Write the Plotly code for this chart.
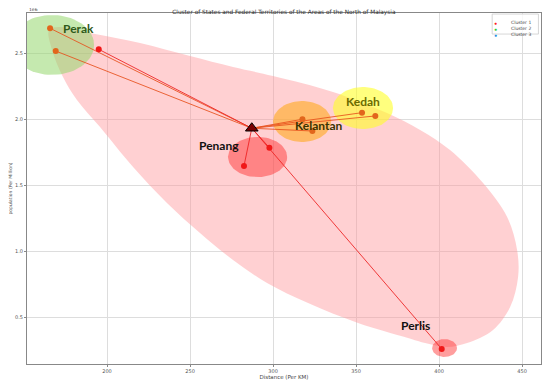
import numpy as np
import plotly.graph_objects as go

# state points (distance in km, population in millions)
states = ["Perak", "Perak", "Perak", "Penang", "Penang", "Kelantan", "Kelantan", "Kedah", "Kedah", "Perlis"]
distance = [165.7, 169.1, 195.0, 282.5, 297.8, 317.7, 323.7, 353.6, 361.6, 401.6]
population = [2.687, 2.515, 2.528, 1.644, 1.783, 1.998, 1.909, 2.048, 2.023, 0.258]
point_group = ["o", "o", "r", "r", "r", "o", "o", "o", "o", "r"]

centroid_distance = [287.2]
centroid_population = [1.930]

# outline of the big cluster region
region_distance = [165.1, 171.7, 192.8, 219.9, 250.0, 275.9, 300.0, 336.1, 368.7, 388.6,
                   406.6, 426.5, 441.0, 447.0, 447.6, 442.8, 432.5, 416.9, 404.8, 391.6,
                   381.3, 351.2, 321.1, 296.4, 275.9, 256.0, 236.1, 215.7, 195.8, 181.9,
                   173.5, 166.9]
region_population = [2.674, 2.697, 2.644, 2.576, 2.477, 2.394, 2.326, 2.205, 2.045, 1.917,
                     1.765, 1.515, 1.258, 1.008, 0.803, 0.576, 0.402, 0.303, 0.273, 0.303,
                     0.341, 0.455, 0.606, 0.758, 0.932, 1.136, 1.364, 1.636, 1.939, 2.144,
                     2.318, 2.523]

# state areas: centre and half widths
area_names = ["Perak", "Penang", "Kelantan", "Kedah", "Perlis"]
area_cx = [166.9, 290.7, 317.5, 354.2, 403.3]
area_cy = [2.561, 1.712, 1.981, 2.083, 0.265]
area_rx = [25.3, 17.8, 17.5, 18.1, 7.5]
area_ry = [0.227, 0.152, 0.155, 0.159, 0.068]
area_colors = ["rgba(150,215,110,0.55)", "rgba(255,40,40,0.45)", "rgba(255,170,30,0.6)",
               "rgba(255,255,40,0.6)", "rgba(255,40,40,0.45)"]

label_x = [183.1, 267.2, 327.7, 353.9, 386.1]
label_y = [2.682, 1.803, 1.949, 2.136, 0.432]
label_colors = ["#2f5a1a", "#111111", "#3a3200", "#6b6b00", "#111111"]

legend_names = ["Cluster 1", "Cluster 2", "Cluster 3"]
legend_colors = ["#ff1a1a", "#33cc33", "#1f8fe0"]

RED = "#f01818"
ORANGE = "#e2661c"
col = {"r": RED, "o": ORANGE}
line_col = {"r": "#ee2020", "o": "#e8501c"}

fig = go.Figure()

fig.add_trace(go.Scatter(
    x=region_distance + region_distance[:1], y=region_population + region_population[:1],
    mode="lines", line=dict(width=0, shape="spline", smoothing=1.0),
    fill="toself", fillcolor="rgba(255,150,155,0.45)", hoverinfo="skip", showlegend=False))

t = np.linspace(0, 2 * np.pi, 80)
for cx, cy, rx, ry, c in zip(area_cx, area_cy, area_rx, area_ry, area_colors):
    fig.add_trace(go.Scatter(
        x=cx + rx * np.cos(t), y=cy + ry * np.sin(t), mode="lines",
        line=dict(width=0), fill="toself", fillcolor=c, hoverinfo="skip", showlegend=False))

for d, p, g in zip(distance, population, point_group):
    fig.add_trace(go.Scatter(
        x=[centroid_distance[0], d], y=[centroid_population[0], p], mode="lines",
        line=dict(color=line_col[g], width=1), opacity=0.85, showlegend=False, hoverinfo="skip"))

fig.add_trace(go.Scatter(
    x=distance, y=population, mode="markers", text=states,
    marker=dict(size=6, color=[col[g] for g in point_group]), showlegend=False))

fig.add_trace(go.Scatter(
    x=centroid_distance, y=centroid_population, mode="markers",
    marker=dict(symbol="triangle-up", size=11, color="#7a0000", line=dict(color="black", width=1)),
    showlegend=False))

for name, x, y, c in zip(area_names, label_x, label_y, label_colors):
    fig.add_annotation(x=x, y=y, text="<b>%s</b>" % name, showarrow=False,
                       font=dict(family="Lato", size=12, color=c))

# small legend box
fig.add_shape(type="rect", xref="paper", yref="paper", x0=0.905, x1=0.995, y0=0.94, y1=0.997,
              line=dict(color="#cccccc", width=0.8), fillcolor="rgba(255,255,255,0.8)")
for i, (n, c) in enumerate(zip(legend_names, legend_colors)):
    yy = 0.986 - i * 0.0175
    fig.add_annotation(xref="paper", yref="paper", x=0.918, y=yy, text="●", showarrow=False,
                       font=dict(size=5, color=c))
    fig.add_annotation(xref="paper", yref="paper", x=0.938, y=yy, text=n, showarrow=False,
                       xanchor="left", font=dict(family="DejaVu Sans", size=4.5, color="#444"))

fig.add_annotation(xref="paper", yref="paper", x=0, y=1, text="1e6", showarrow=False,
                   xanchor="left", yanchor="bottom", yshift=-1,
                   font=dict(family="DejaVu Sans", size=4.5, color="#444"))

axis_common = dict(showgrid=True, gridcolor="#dddddd", gridwidth=1, showline=True,
                   linecolor="#888888", linewidth=1, mirror=True, ticks="outside",
                   ticklen=2, tickcolor="#888888", zeroline=False, automargin=False,
                   tickfont=dict(family="DejaVu Sans", size=5, color="#555555"))

fig.update_xaxes(range=[151.8, 461.4], tickvals=[200, 250, 300, 350, 400, 450],
                 title=dict(text="Distance (Per KM)", standoff=2,
                            font=dict(family="DejaVu Sans", size=5.5, color="#444")),
                 **axis_common)
fig.update_yaxes(range=[0.144, 2.803], tickvals=[0.5, 1.0, 1.5, 2.0, 2.5], tickformat=".1f",
                 title=dict(text="population (Per Million)", standoff=3,
                            font=dict(family="DejaVu Sans", size=4.5, color="#444")),
                 **axis_common)

# the page adds an 8px body margin, so the figure is drawn 8px smaller
fig.update_layout(
    width=542, height=375,
    margin=dict(l=19, r=9, t=5, b=19, autoexpand=False),
    paper_bgcolor="white", plot_bgcolor="white",
    title=dict(text="Cluster of States and Federal Territories of the Areas of the North of Malaysia",
               x=0.509, xanchor="center", y=0.996, yanchor="top",
               font=dict(family="DejaVu Sans", size=5.8, color="#333")),
    showlegend=False,
)

fig.write_html("out.html")
